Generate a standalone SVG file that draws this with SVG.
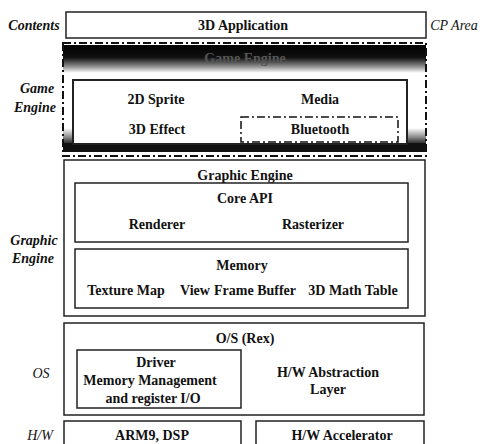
<svg xmlns="http://www.w3.org/2000/svg" width="480" height="444" viewBox="0 0 480 444">
<defs>
<linearGradient id="bandTop" x1="0" y1="0" x2="0" y2="1">
<stop offset="0" stop-color="#000"/>
<stop offset="0.45" stop-color="#111"/>
<stop offset="0.75" stop-color="#888"/>
<stop offset="1" stop-color="#fff"/>
</linearGradient>
<linearGradient id="bandBot" x1="0" y1="0" x2="0" y2="1">
<stop offset="0" stop-color="#fff"/>
<stop offset="0.5" stop-color="#999"/>
<stop offset="1" stop-color="#222"/>
</linearGradient>
</defs>
<style>
.box{fill:#fff;stroke:#222;stroke-width:1.5}
.dash{fill:none;stroke:#111;stroke-width:2;stroke-dasharray:8,3,2,3}
.t{font-family:"Times New Roman",Tinos,"Liberation Serif",Times,serif;font-size:14px;font-weight:bold;fill:#111;text-anchor:middle}
.lbl{font-family:"Times New Roman",Tinos,"Liberation Serif",Times,serif;font-size:14px;font-weight:bold;font-style:italic;fill:#111;text-anchor:middle}
</style>
<rect width="480" height="444" fill="#fff"/>

<g id="labels">
<text class="lbl" x="34" y="30">Contents</text>
<text class="lbl" x="454" y="30" style="font-weight:normal">CP Area</text>
<text class="lbl" x="37" y="93">Game</text>
<text class="lbl" x="35" y="112">Engine</text>
<text class="lbl" x="34" y="245">Graphic</text>
<text class="lbl" x="33" y="263">Engine</text>
<text class="lbl" x="41" y="378" style="font-weight:normal">OS</text>
<text class="lbl" x="40" y="440" style="font-weight:normal">H/W</text>
</g>

<g id="app">
<rect class="box" x="66" y="12" width="360" height="26"/>
<text class="t" x="243" y="30">3D Application</text>
</g>

<g id="game-engine">
<rect x="63" y="45" width="363" height="28" fill="url(#bandTop)"/>
<rect x="63" y="128" width="363" height="16" fill="url(#bandBot)"/>
<rect x="63" y="143" width="363" height="9" fill="#111"/>
<rect class="dash" x="63" y="43" width="363" height="113"/>
<text class="t" x="245" y="63" style="fill:#555">Game Engine</text>
<rect class="box" x="73" y="80" width="334" height="64" style="stroke-width:2"/>
<text class="t" x="156" y="104">2D Sprite</text>
<text class="t" x="320" y="104">Media</text>
<text class="t" x="157" y="134">3D Effect</text>
<g id="bluetooth">
<rect class="dash" x="241" y="117" width="157" height="25" style="stroke-width:1.5"/>
<text class="t" x="320" y="134">Bluetooth</text>
</g>
</g>

<g id="graphic-engine">
<rect class="box" x="64" y="160" width="361" height="156"/>
<text class="t" x="245" y="180">Graphic Engine</text>
<g id="core-api">
<rect class="box" x="75" y="183" width="333" height="59"/>
<text class="t" x="245" y="203">Core API</text>
<text class="t" x="157" y="229">Renderer</text>
<text class="t" x="313" y="229">Rasterizer</text>
</g>
<g id="memory">
<rect class="box" x="75" y="249" width="333" height="59"/>
<text class="t" x="242" y="270">Memory</text>
<text class="t" x="126" y="295">Texture Map</text>
<text class="t" x="195" y="295">View</text>
<text class="t" x="255" y="295">Frame Buffer</text>
<text class="t" x="353" y="295">3D Math Table</text>
</g>
</g>

<g id="os">
<rect class="box" x="64" y="323" width="360" height="92"/>
<text class="t" x="245" y="343">O/S (Rex)</text>
<g id="driver">
<rect class="box" x="77" y="350" width="164" height="58"/>
<text class="t" x="156" y="367">Driver</text>
<text class="t" x="150" y="385">Memory Management</text>
<text class="t" x="153" y="403">and register I/O</text>
</g>
<text class="t" x="328" y="377">H/W Abstraction</text>
<text class="t" x="328" y="394">Layer</text>
</g>

<g id="arm">
<rect class="box" x="64" y="421" width="177" height="30"/>
<text class="t" x="152" y="440">ARM9, DSP</text>
</g>
<g id="hw-acc">
<rect class="box" x="256" y="421" width="168" height="30"/>
<text class="t" x="342" y="440">H/W Accelerator</text>
</g>
</svg>
